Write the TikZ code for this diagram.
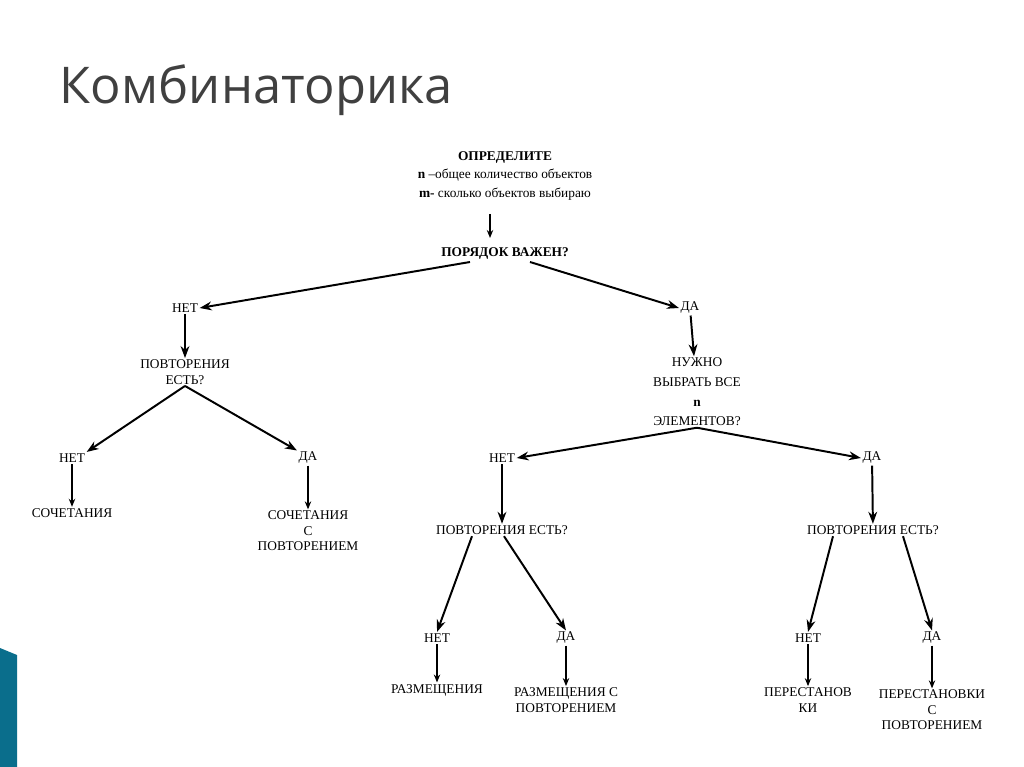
\documentclass[tikz,border=0pt]{standalone}
\usepackage{fontspec}
\setmainfont{Liberation Serif}
\newfontfamily\titlefont{Open Sans}
\usetikzlibrary{arrows.meta}
\definecolor{kTitle}{RGB}{64,64,64}
\definecolor{kBlue}{RGB}{10,110,140}
\tikzset{
  % текст схемы
  txt/.style={font=\fontsize{9.5}{11}\selectfont, align=center, inner sep=1pt},
  hdr/.style={txt, font=\fontsize{9.5}{11}\selectfont\bfseries},
  % стрелки
  bigarrow/.style={-{Stealth[length=3mm,width=2.2mm]}, line width=1.4pt},
  smallarrow/.style={-{Stealth[length=2mm,width=1.6mm]}, line width=0.8pt},
}
\begin{document}
\begin{tikzpicture}[x={(0.025cm,0)}, y={(0,-0.025cm)}]
  \useasboundingbox (0,0) rectangle (1024,767);
  \fill[white] (0,0) rectangle (1024,767);
  \fill[kBlue] (0,648) -- (17,655) -- (17,767) -- (0,767) -- cycle;
  \node[anchor=west, font=\titlefont\fontsize{36}{40}\selectfont, text=kTitle] (title) at (55,90) {Комбинаторика};

  \node[txt] (def) at (505,176) {\textbf{ОПРЕДЕЛИТЕ}\\[2pt]
    \textbf{n} –общее количество объектов\\[2pt]
    \textbf{m-} сколько объектов выбираю};
  \node[hdr] (order) at (505,254) {ПОРЯДОК ВАЖЕН?};
  \node[txt] (no1) at (185,308) {НЕТ};
  \node[txt] (yes1) at (690,308) {ДА};
  \node[txt] (rep1) at (185,372) {ПОВТОРЕНИЯ\\ЕСТЬ?};
  \node[txt] (all) at (697,392) {НУЖНО\\[3pt]ВЫБРАТЬ ВСЕ\\[3pt]\textbf{n}\\[3pt]ЭЛЕМЕНТОВ?};
  \node[txt] (no2) at (72,458) {НЕТ};
  \node[txt] (yes2) at (308,458) {ДА};
  \node[txt] (comb) at (72,513) {СОЧЕТАНИЯ};
  \node[txt] (combrep) at (308,531) {СОЧЕТАНИЯ\\С\\ПОВТОРЕНИЕМ};
  \node[txt] (no3) at (502,458) {НЕТ};
  \node[txt] (yes3) at (872,458) {ДА};
  \node[txt] (rep2) at (502,530) {ПОВТОРЕНИЯ ЕСТЬ?};
  \node[txt] (rep3) at (873,530) {ПОВТОРЕНИЯ ЕСТЬ?};
  \node[txt] (no4) at (437,638) {НЕТ};
  \node[txt] (yes4) at (566,638) {ДА};
  \node[txt] (no5) at (808,638) {НЕТ};
  \node[txt] (yes5) at (932,638) {ДА};
  \node[txt] (razm) at (437,690) {РАЗМЕЩЕНИЯ};
  \node[txt] (razmrep) at (566,700) {РАЗМЕЩЕНИЯ С\\ПОВТОРЕНИЕМ};
  \node[txt] (perest) at (808,700) {ПЕРЕСТАНОВ\\КИ};
  \node[txt] (perestrep) at (932,710) {ПЕРЕСТАНОВКИ\\С\\ПОВТОРЕНИЕМ};

  % стрелки
  \draw[smallarrow, line width=1.2pt] (490,214) -- (490,238);
  \draw[bigarrow] (470,262) -- (no1.east);
  \draw[bigarrow] (530,262) -- (yes1.west);
  \draw[bigarrow] (no1) -- (rep1);
  \draw[bigarrow] (yes1) -- (all);
  \draw[bigarrow] (rep1.south) -- (no2.north east);
  \draw[bigarrow] (rep1.south) -- (yes2.north west);
  \draw[smallarrow] (no2) -- (comb);
  \draw[smallarrow] (yes2) -- (combrep);
  \draw[bigarrow] (all.south) -- (no3.east);
  \draw[bigarrow] (all.south) -- (yes3.west);
  \draw[bigarrow] (no3) -- (rep2);
  \draw[bigarrow] (yes3) -- (rep3);
  \draw[bigarrow] (rep2.south) ++(-30,0) -- (no4.north);
  \draw[bigarrow] (rep2.south) ++(2,0) -- (yes4.north);
  \draw[bigarrow] (rep3.south) ++(-40,0) -- (no5.north);
  \draw[bigarrow] (rep3.south) ++(30,0) -- (yes5.north);
  \draw[smallarrow] (no4) -- (razm);
  \draw[smallarrow] (yes4) -- (razmrep);
  \draw[smallarrow] (no5) -- (perest);
  \draw[smallarrow] (yes5) -- (perestrep);
\end{tikzpicture}
\end{document}
